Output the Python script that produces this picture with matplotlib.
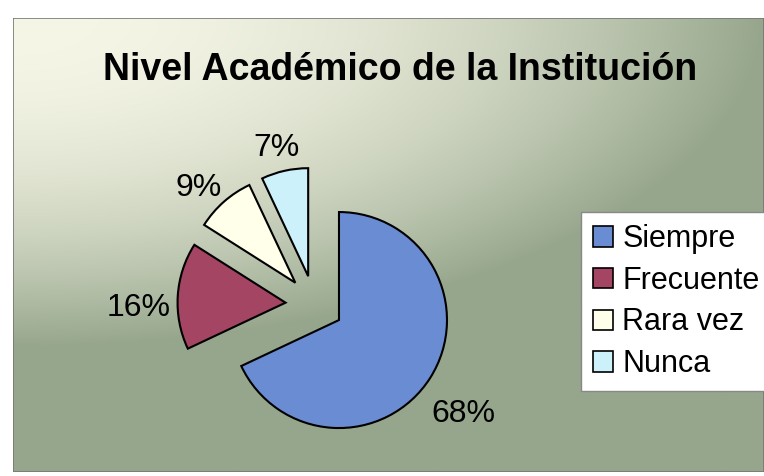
import numpy as np
import matplotlib
matplotlib.use("Agg")
import matplotlib.pyplot as plt

plt.rcParams['font.family'] = ['Liberation Sans', 'DejaVu Sans']

# datos del grafico
categorias = ["Siempre", "Frecuente", "Rara vez", "Nunca"]
porcentajes = [68, 16, 9, 7]
colores = ["#6A8CD2", "#A34563", "#FFFFEA", "#CDF1FA"]
titulo = "Nivel Académico de la Institución"

W, H = 764, 476
fig = plt.figure(figsize=(W / 100, H / 100), dpi=100)
fig.patch.set_facecolor("white")

# fondo degradado (crema arriba-izquierda -> gris verdoso)
bg = fig.add_axes([13 / W, 4 / H, 1 - 13 / W, (472 - 18) / H])
bg.set_axis_off()
ny, nx = 200, 300
yy, xx = np.mgrid[0:1:ny * 1j, 0:1:nx * 1j]
d = np.clip(xx ** 2 * 1.0 + yy ** 2 * 1.9, 0, 1)
c0 = np.array([246, 246, 230]) / 255
c1 = np.array([150, 166, 140]) / 255
img = c0[None, None, :] * (1 - d[..., None]) + c1[None, None, :] * d[..., None]
bg.imshow(img, aspect="auto", extent=[0, 1, 0, 1], origin="upper")
bg.add_patch(plt.Rectangle((0, 0), 1, 1, transform=bg.transAxes, fill=False,
                           edgecolor="#777777", linewidth=1.2))

ax = fig.add_axes([0, 0, 1, 1])

wedges, textos, pcts = ax.pie(
    porcentajes,
    colors=colores,
    explode=[29] * 4,
    startangle=90,
    counterclock=False,
    center=(314.5, 171.5),
    radius=108,
    autopct="%1.0f%%",
    pctdistance=1.36,
    wedgeprops=dict(edgecolor="black", linewidth=1.5),
    textprops=dict(fontsize=23, color="black"),
    frame=True,
)
for t in pcts:
    t.set_va("top")
ax.set_xlim(0, W)
ax.set_ylim(0, H)
ax.set_aspect("equal")
ax.set_axis_off()

fig.text(400 / W, 1 - 70 / H, titulo, ha="center", va="center",
         fontsize=27, fontweight="bold", color="black")

leg = fig.legend(wedges, categorias, loc="upper left",
                 bbox_to_anchor=(581 / W, 1 - 212 / H),
                 fontsize=22, frameon=True, fancybox=False,
                 handlelength=0.65, handleheight=0.65, handletextpad=0.3,
                 labelspacing=0.38, borderpad=0.4, borderaxespad=0)
leg.get_frame().set_edgecolor("#888888")
leg.get_frame().set_facecolor("white")
leg.get_frame().set_alpha(1)
for h in leg.legend_handles:
    h.set_edgecolor("black")
    h.set_linewidth(1.2)

fig.savefig("out.png", dpi=100)
